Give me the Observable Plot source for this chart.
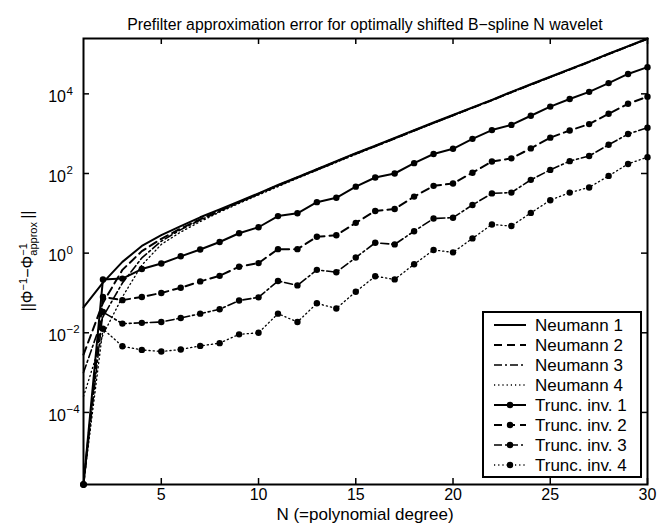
<!DOCTYPE html>
<html><head><meta charset="utf-8">
<script src="https://cdn.jsdelivr.net/npm/d3@7"></script>
<script src="https://cdn.jsdelivr.net/npm/@observablehq/plot@0.6"></script>
<style>
html,body{margin:0;padding:0;background:#fff;}
#chart{width:657px;height:524px;overflow:hidden;}
</style></head><body><div id="chart"></div>
<script>
// polynomial degree N
const degrees = [1,2,3,4,5,6,7,8,9,10,11,12,13,14,15,16,17,18,19,20,21,22,23,24,25,26,27,28,29,30];
// log10 of the error
const neumann1 = [-1.36,-0.74,-0.22,0.18,0.45,0.68,0.90,1.10,1.30,1.50,1.71,1.91,2.11,2.31,2.51,2.70,2.89,3.09,3.28,3.47,3.66,3.85,4.05,4.24,4.43,4.62,4.81,5.01,5.20,5.39];
const neumann2 = [-2.55,-1.25,-0.42,0.05,0.36,0.62,0.85,1.07,1.28,1.49,1.70,1.90,2.10,2.30,2.50,2.69,2.88,3.08,3.27,3.46,3.65,3.84,4.04,4.23,4.42,4.61,4.80,5.00,5.19,5.38];
const neumann3 = [-3.00,-1.60,-0.75,-0.12,0.30,0.59,0.83,1.05,1.27,1.48,1.69,1.89,2.09,2.29,2.49,2.68,2.88,3.07,3.27,3.46,3.65,3.84,4.04,4.23,4.42,4.61,4.80,5.00,5.19,5.38];
const neumann4 = [-3.60,-2.05,-1.10,-0.30,0.22,0.53,0.79,1.03,1.25,1.46,1.67,1.88,2.08,2.28,2.48,2.68,2.87,3.07,3.26,3.45,3.65,3.84,4.03,4.23,4.42,4.61,4.80,4.99,5.19,5.38];
const trunc1 = [-5.81,-0.66,-0.64,-0.40,-0.26,-0.08,0.09,0.28,0.50,0.65,0.93,1.00,1.28,1.39,1.67,1.90,2.00,2.26,2.49,2.62,2.87,3.09,3.22,3.45,3.68,3.87,4.05,4.27,4.50,4.67];
const trunc2 = [-5.81,-1.10,-1.18,-1.10,-1.00,-0.87,-0.71,-0.57,-0.34,-0.25,0.10,0.10,0.41,0.45,0.76,1.06,1.11,1.42,1.69,1.75,2.02,2.30,2.38,2.63,2.90,3.08,3.24,3.50,3.75,3.93];
const trunc3 = [-5.81,-1.48,-1.77,-1.75,-1.73,-1.63,-1.52,-1.41,-1.19,-1.11,-0.70,-0.81,-0.42,-0.48,-0.11,0.26,0.22,0.55,0.87,0.89,1.21,1.50,1.52,1.84,2.09,2.31,2.44,2.72,2.99,3.15];
const trunc4 = [-5.81,-1.90,-2.34,-2.43,-2.47,-2.42,-2.33,-2.26,-2.04,-2.00,-1.52,-1.73,-1.26,-1.39,-0.97,-0.58,-0.66,-0.28,0.08,0.02,0.37,0.72,0.68,1.01,1.33,1.52,1.65,1.94,2.24,2.41];

const seriesNames = ["Neumann 1","Neumann 2","Neumann 3","Neumann 4","Trunc. inv. 1","Trunc. inv. 2","Trunc. inv. 3","Trunc. inv. 4"];
const seriesValues = [neumann1,neumann2,neumann3,neumann4,trunc1,trunc2,trunc3,trunc4];
const xTicks = [5,10,15,20,25,30];
const yTickExps = [-4,-2,0,2,4];
const yDomainExps = [-5.81, 5.39];
const titleText = "Prefilter approximation error for optimally shifted B\u2212spline N wavelet";
const xLabel = "N (=polynomial degree)";

// styles per series (index)
const styles = [
  {dash: null, w: 2, dots: false},
  {dash: "8,5", w: 2, dots: false},
  {dash: "8,3,2,3", w: 1.6, dots: false},
  {dash: "1.2,3", w: 1.3, dots: false},
  {dash: null, w: 2, dots: true},
  {dash: "8,5", w: 2, dots: true},
  {dash: "8,3,2,3", w: 1.6, dots: true},
  {dash: "1.2,3", w: 1.3, dots: true}
];

const tables = seriesValues.map((vals, i) => vals.map((e, j) => ({n: degrees[j], v: Math.pow(10, e), s: seriesNames[i]})));

const W = 657, H = 524, mL = 83, mR = 10, mT = 38, mB = 40;
const innerW = W - mL - mR, innerH = H - mT - mB;
const FONT = "'Liberation Sans', Arial, Helvetica, sans-serif";

const marks = [];
tables.forEach((t, i) => {
  const st = styles[i];
  marks.push(Plot.line(t, {x: "n", y: "v", stroke: "black", strokeWidth: st.w, strokeDasharray: st.dash || undefined, strokeLinejoin: "round"}));
});
tables.forEach((t, i) => {
  if (styles[i].dots) marks.push(Plot.dot(t, {x: "n", y: "v", r: 3.2, fill: "black", stroke: "none"}));
});
// inward ticks on all four sides
marks.push(Plot.tickX(xTicks, {x: d => d, insetTop: innerH - 6, stroke: "black", strokeWidth: 1.5}));
marks.push(Plot.tickX(xTicks, {x: d => d, insetBottom: innerH - 6, stroke: "black", strokeWidth: 1.5}));
marks.push(Plot.tickY(yTickExps, {y: d => Math.pow(10, d), insetRight: innerW - 6, stroke: "black", strokeWidth: 1.5}));
marks.push(Plot.tickY(yTickExps, {y: d => Math.pow(10, d), insetLeft: innerW - 6, stroke: "black", strokeWidth: 1.5}));
marks.push(Plot.frame({stroke: "black", strokeWidth: 2}));
// tick labels
marks.push(Plot.text(xTicks, {x: d => d, frameAnchor: "bottom", text: d => String(d), dy: 15, fontSize: 16, fill: "black"}));
marks.push(Plot.text(yTickExps, {y: d => Math.pow(10, d), frameAnchor: "left", text: () => "10", textAnchor: "end", dx: -17.5, dy: 3, fontSize: 16, fill: "black"}));
marks.push(Plot.text(yTickExps, {y: d => Math.pow(10, d), frameAnchor: "left", text: d => d < 0 ? "\u2212" + (-d) : String(d), textAnchor: "start", dx: -17, dy: -3, fontSize: 11.5, fill: "black"}));

const chart = Plot.plot({
  width: W, height: H,
  marginLeft: mL, marginRight: mR, marginTop: mT, marginBottom: mB,
  style: {fontFamily: FONT, background: "white", color: "black", overflow: "visible"},
  x: {domain: [1, 30], axis: null},
  y: {type: "log", domain: yDomainExps.map(e => Math.pow(10, e)), axis: null},
  marks
});
document.getElementById("chart").appendChild(chart);

const svg = d3.select(chart);
// title
svg.append("text").attr("x", mL + innerW / 2).attr("y", 30).attr("text-anchor", "middle")
  .attr("font-size", 15.8).attr("font-family", FONT).attr("fill", "black").text(titleText);
// x label
svg.append("text").attr("x", mL + innerW / 2).attr("y", 520).attr("text-anchor", "middle")
  .attr("font-size", 17).attr("font-family", FONT).attr("fill", "black").text(xLabel);
// y label with super/subscripts
const yl = svg.append("text").attr("transform", `translate(33,${mT + innerH / 2}) rotate(-90)`)
  .attr("text-anchor", "middle").attr("font-size", 16).attr("font-family", FONT).attr("fill", "black");
yl.append("tspan").text("||\u03A6");
yl.append("tspan").attr("dy", -6).attr("font-size", 11).text("\u22121");
yl.append("tspan").attr("dy", 6).text("\u2212\u03A6");
yl.append("tspan").attr("dy", -6).attr("font-size", 11).text("\u22121");
yl.append("tspan").attr("dx", -12.5).attr("dy", 10).attr("font-size", 11).text("approx");
yl.append("tspan").attr("dy", -4).text("\u2009||");

// legend
const lg = svg.append("g").attr("font-family", FONT).attr("text-anchor", "start");
lg.append("rect").attr("x", 483).attr("y", 312).attr("width", 158).attr("height", 165)
  .attr("fill", "white").attr("stroke", "black").attr("stroke-width", 2);
seriesNames.forEach((name, i) => {
  const y = 325 + 20 * i;
  const st = styles[i];
  lg.append("line").attr("x1", 494).attr("x2", 526).attr("y1", y).attr("y2", y)
    .attr("stroke", "black").attr("stroke-width", st.w).attr("stroke-dasharray", st.dash);
  if (st.dots) lg.append("circle").attr("cx", 510).attr("cy", y).attr("r", 3.2).attr("fill", "black");
  lg.append("text").attr("x", 535).attr("y", y).attr("dy", "0.35em").attr("font-size", 17)
    .attr("text-anchor", "start").attr("fill", "black").text(name);
});
</script>
</body></html>
